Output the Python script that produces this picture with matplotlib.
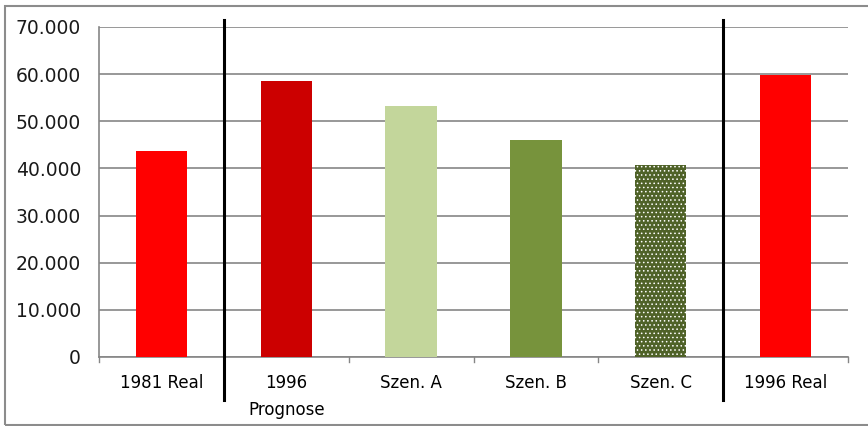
import matplotlib
matplotlib.use("Agg")
import matplotlib.pyplot as plt
from matplotlib.patches import Rectangle

categories = ["1981 Real", "1996\nPrognose", "Szen. A", "Szen. B", "Szen. C", "1996 Real"]
values = [43700, 58500, 53200, 46000, 40700, 59800]
colors = ["#FF0000", "#CC0000", "#C3D69B", "#77933C", "#4F6228", "#FF0000"]
y_ticks = [0, 10000, 20000, 30000, 40000, 50000, 60000, 70000]
y_labels = ["0", "10.000", "20.000", "30.000", "40.000", "50.000", "60.000", "70.000"]
separators = [0.5, 4.5]

plt.rcParams["hatch.linewidth"] = 0.6

fig = plt.figure(figsize=(8.68, 4.26), dpi=100)
ax = fig.add_axes([99 / 868, 69 / 426, 749 / 868, 330 / 426])

x = list(range(len(categories)))
bars = ax.bar(x, values, width=0.41, color=colors, linewidth=0, zorder=3)
# dotted fill for scenario C
bars[4].set_hatch("....")
bars[4].set_edgecolor("white")

ax.set_xlim(-0.5, len(categories) - 0.5)
ax.set_ylim(0, 70000)
ax.set_yticks(y_ticks)
ax.set_yticklabels(y_labels, fontsize=13.5, family="DejaVu Sans", color="#1a1a1a")
ax.tick_params(axis="y", length=0, pad=13)
ax.yaxis.grid(True, color="#868686", linewidth=1.2, zorder=0)

ax.set_xticks(x)
ax.set_xticklabels(categories, fontsize=12, family="DejaVu Sans", linespacing=1.7)
ax.tick_params(axis="x", length=0, pad=12)
# small marks between categories
for b in range(len(categories) + 1):
    ax.plot([b - 0.5, b - 0.5], [0, -1100], color="#868686", lw=1, clip_on=False)

for s in ["top", "right"]:
    ax.spines[s].set_visible(False)
for s in ["left", "bottom"]:
    ax.spines[s].set_color("#868686")
    ax.spines[s].set_linewidth(1.2)

for sx in separators:
    ax.plot([sx, sx], [-9100, 71500], color="black", lw=2.2, clip_on=False, zorder=5)

# outer frame
fig.patches.append(Rectangle((5 / 868, 1 / 426), 1.2, 419 / 426, transform=fig.transFigure,
                             fill=False, edgecolor="#8C8C8C", linewidth=1.5))

fig.savefig("out.png", dpi=100)
